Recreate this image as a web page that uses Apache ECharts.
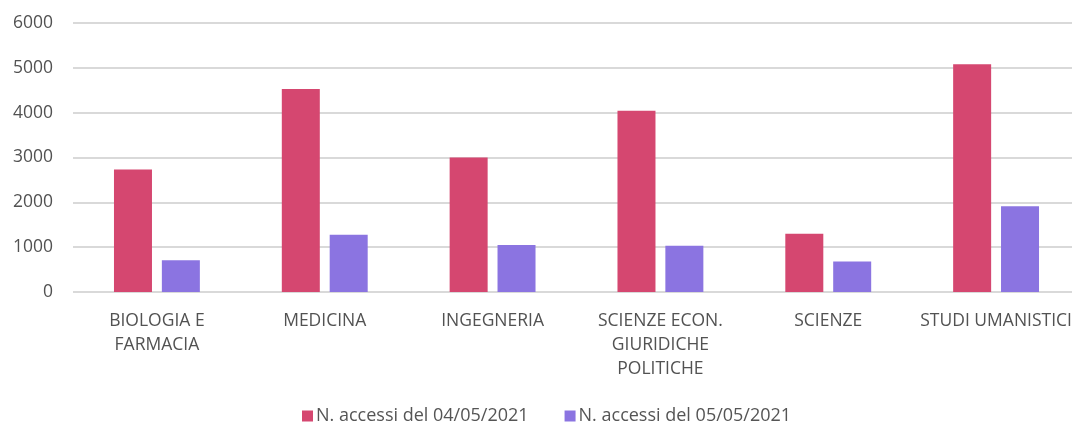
<!DOCTYPE html>
<html>
<head>
<meta charset="utf-8">
<script src="https://cdn.jsdelivr.net/npm/echarts@6/dist/echarts.min.js"></script>
<style>
html,body{margin:0;padding:0;background:#fff;overflow:hidden;}
#main{width:1080px;height:424px;}
</style>
</head>
<body>
<div id="main"></div>
<script>
var categories = ['BIOLOGIA E\nFARMACIA','MEDICINA','INGEGNERIA','SCIENZE ECON.\nGIURIDICHE\nPOLITICHE','SCIENZE','STUDI UMANISTICI'];
var accessi0405 = [2730, 4530, 3000, 4040, 1300, 5080];
var accessi0505 = [710, 1275, 1050, 1030, 680, 1910];
var yTicks = [0, 1000, 2000, 3000, 4000, 5000, 6000];

// the original chart is cropped on the right, so the canvas is a bit wider than the window
var myChart = echarts.init(document.getElementById('main'));
var option = {
    animation: false,
    textStyle: {fontFamily: 'Open Sans'},
    grid: {left: 73, right: 0, top: 23, height: 269, containLabel: false},
    legend: {
        data: ['N. accessi del 04/05/2021','N. accessi del 05/05/2021'],
        left: 297,
        top: 402,
        icon: 'rect',
        itemWidth: 11,
        itemHeight: 11,
        itemGap: 36,
        textStyle: {color: '#555555', fontSize: 18, fontFamily: 'Open Sans', padding: [0,0,0,-2]}
    },
    xAxis: [{
        type: 'category',
        data: categories,
        axisLine: {show: false},
        axisTick: {show: false},
        axisLabel: {color: '#525252', fontSize: 17.5, lineHeight: 24, margin: 17, interval: 0}
    }],
    yAxis: [{
        type: 'value',
        min: yTicks[0],
        max: yTicks[yTicks.length-1],
        interval: 1000,
        axisLine: {show: false},
        axisTick: {show: false},
        axisLabel: {color: '#525252', fontSize: 17.5, margin: 20, formatter: function(v){ return String(v); }},
        splitLine: {lineStyle: {color: '#d9d9d9', width: 2}}
    }],
    series: [
        {
            name: 'N. accessi del 04/05/2021',
            type: 'bar',
            data: accessi0405,
            barWidth: 38,
            barGap: '26%',
            itemStyle: {color: '#d54770'}
        },
        {
            name: 'N. accessi del 05/05/2021',
            type: 'bar',
            data: accessi0505,
            barWidth: 38,
            itemStyle: {color: '#8b74e1'}
        }
    ]
};
myChart.setOption(option);
</script>
</body>
</html>
